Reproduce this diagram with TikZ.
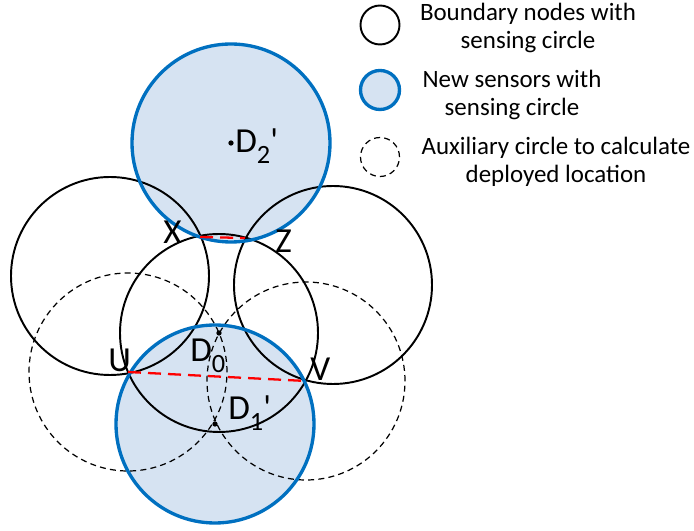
\documentclass[tikz,border=0pt]{standalone}
\usepackage{fontspec}
\newfontfamily\calib{Carlito}
\usetikzlibrary{calc}

\definecolor{sensorblue}{RGB}{0,112,192}
\definecolor{sensorfill}{RGB}{214,227,242}

\tikzset{
    boundary/.style={draw=black, line width=1.1pt},
    newsensor/.style={draw=sensorblue, fill=sensorfill, line width=1.9pt},
    auxiliary/.style={draw=black, line width=0.7pt, dash pattern=on 3.4pt off 2.4pt},
    gapline/.style={draw=red, line width=1.3pt, dash pattern=on 7.4pt off 4pt},
    dotmark/.style={circle, fill=black, inner sep=0pt, minimum size=3pt},
    lab/.style={font=\calib\fontsize{20}{22}\selectfont, inner sep=0pt, anchor=base west},
    legendtext/.style={font=\calib\fontsize{14.2}{16}\selectfont, align=center, inner sep=0pt}
}
\newcommand{\lsub}[1]{\raisebox{-0.3em}{\fontsize{15}{15}\selectfont #1}}

\begin{document}
\begin{tikzpicture}[x=0.02cm, y=0.02cm]
    \useasboundingbox (0,0) rectangle (694,531);

    \coordinate (D2) at (231,388);
    \coordinate (Xc) at (110,255);
    \coordinate (Zc) at (333,246);
    \coordinate (D0) at (219,198);
    \coordinate (D1) at (215,107);
    \coordinate (U) at (128,159);
    \coordinate (V) at (306,150);
    \coordinate (X) at (200,294);
    \coordinate (Z) at (245,293);

    % Fill the new sensors
    \fill[sensorfill] (D2) circle[radius=99];
    \fill[sensorfill] (D1) circle[radius=99];

    % Draw the boundary circles
    \draw[boundary] (Xc) circle[radius=99];
    \draw[boundary] (Zc) circle[radius=99];
    \draw[boundary] (D0) circle[radius=99];

    % Draw the auxiliary circles
    \draw[auxiliary] (U) circle[radius=99];
    \draw[auxiliary] (V) circle[radius=99];

    % Outline the new sensors
    \draw[sensorblue, line width=1.9pt] (D2) circle[radius=99];
    \draw[sensorblue, line width=1.9pt] (D1) circle[radius=99];

    % Draw the gaps
    \draw[gapline] (U) -- (V);
    \draw[gapline] (X) -- (Z);

    % Mark the locations
    \node[dotmark] (m0) at (D0) {};
    \node[dotmark] (m1) at (D1) {};
    \node[dotmark] (m2) at (D2) {};

    % Label the points
    \node[lab] (lU) at (108,159) {U};
    \node[lab] (lV) at (310,150) {V};
    \node[lab] (lX) at (163,287) {X};
    \node[lab] (lZ) at (275,278) {Z};
    \node[lab] (l0) at (190,169) {D\lsub{0}};
    \node[lab] (l1) at (228,111) {D\lsub{1}'};
    \node[lab] (l2) at (235,378) {D\lsub{2}'};

    % Legend
    \draw[boundary] (380,506) circle[radius=19.5];
    \draw[newsensor] (380,441) circle[radius=19.5];
    \draw[auxiliary] (380,374) circle[radius=19.5];
    \node[legendtext] (t1) at (528,503) {Boundary nodes with\\sensing circle};
    \node[legendtext] (t2) at (512,436) {New sensors with\\sensing circle};
    \node[legendtext] (t3) at (556,369) {Auxiliary circle to calculate\\deployed location};
\end{tikzpicture}
\end{document}
